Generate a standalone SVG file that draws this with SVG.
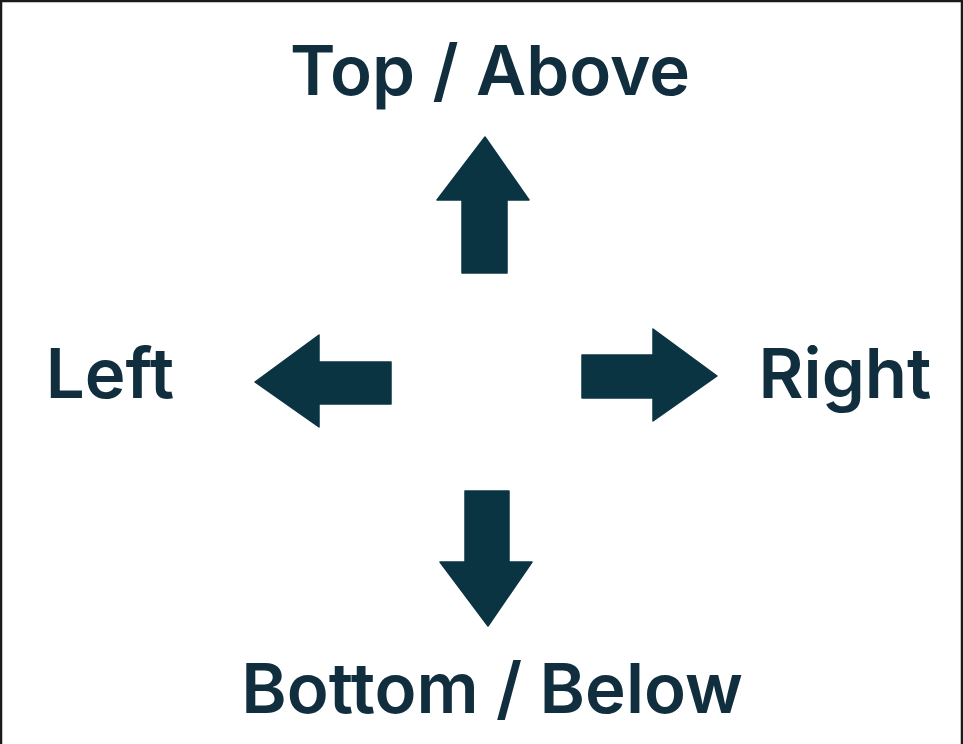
<svg xmlns="http://www.w3.org/2000/svg" width="963" height="744" viewBox="0 0 963 744">
  <style>
    .label { font-family: Inter, "Noto Sans", "Liberation Sans", sans-serif; font-weight: 600; font-size: 69px; fill: #102e3e; }
    .arrow { fill: #0b3443; stroke: #0b3443; stroke-width: 1.5; stroke-linejoin: round; }
  </style>
  <rect width="963" height="744" fill="#ffffff"/>
  <!-- frame: top, left and right edges -->
  <path d="M1,744 V1 H962 V744" fill="none" stroke="#1a1a1a" stroke-width="2.5"/>

  <g id="label-top"><text class="label" x="490" y="95" text-anchor="middle">Top / Above</text></g>
  <g id="label-left"><text class="label" x="110" y="398" text-anchor="middle">Left</text></g>
  <g id="label-right"><text class="label" x="845" y="398" text-anchor="middle">Right</text></g>
  <g id="label-bottom"><text class="label" x="492" y="713" text-anchor="middle">Bottom / Below</text></g>

  <g id="arrows">
    <path id="arrow-up" class="arrow" d="M485,137 L529,200 L507,200 L507,273 L462,273 L462,200 L437,200 Z"/>
    <path id="arrow-left" class="arrow" d="M255,382 L319,335 L319,362 L391,362 L391,404 L319,404 L319,427 Z"/>
    <path id="arrow-right" class="arrow" d="M717,376 L653,329 L653,355 L582,355 L582,398 L653,398 L653,421 Z"/>
    <path id="arrow-down" class="arrow" d="M488,626 L532,562 L509,562 L509,491 L465,491 L465,562 L440,562 Z"/>
  </g>
</svg>
